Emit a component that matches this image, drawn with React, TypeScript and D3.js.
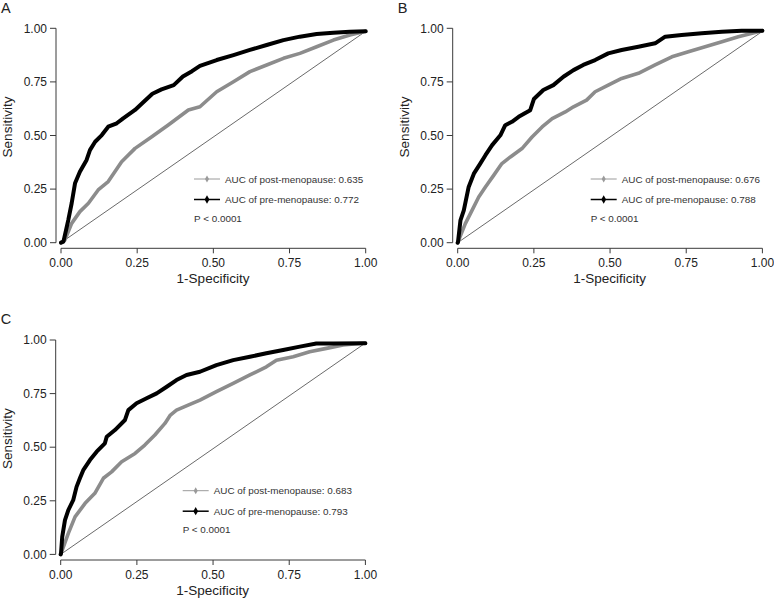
import React from 'react';
import * as d3 from 'd3';

const ticks = [0, 0.25, 0.5, 0.75, 1];
const tickLabels = ['0.00', '0.25', '0.50', '0.75', '1.00'];
const panelLetters = ['A', 'B', 'C'];
const postLabels = ['AUC of post-menopause: 0.635', 'AUC of post-menopause: 0.676', 'AUC of post-menopause: 0.683'];
const preLabels = ['AUC of pre-menopause: 0.772', 'AUC of pre-menopause: 0.788', 'AUC of pre-menopause: 0.793'];
const pText = 'P < 0.0001';
const xTitle = '1-Specificity';
const yTitle = 'Sensitivity';

type P = [number, number];

const aPre: P[] = [
  [0, 0], [0.008, 0.005], [0.024, 0.106], [0.035, 0.184], [0.046, 0.277], [0.062, 0.331], [0.084, 0.386],
  [0.095, 0.432], [0.112, 0.471], [0.134, 0.502], [0.155, 0.541], [0.183, 0.557], [0.204, 0.58], [0.243, 0.619],
  [0.27, 0.655], [0.3, 0.695], [0.33, 0.715], [0.37, 0.735], [0.4, 0.775], [0.43, 0.8], [0.456, 0.825],
  [0.511, 0.852], [0.566, 0.875], [0.62, 0.899], [0.675, 0.922], [0.73, 0.945], [0.784, 0.961], [0.839, 0.973],
  [0.894, 0.979], [0.948, 0.984], [1, 0.986],
];
const aPost: P[] = [
  [0, 0], [0.013, 0.013], [0.035, 0.09], [0.062, 0.145], [0.09, 0.184], [0.122, 0.246], [0.155, 0.285],
  [0.199, 0.378], [0.243, 0.44], [0.298, 0.494], [0.352, 0.549], [0.418, 0.619], [0.456, 0.634], [0.511, 0.704],
  [0.566, 0.751], [0.62, 0.798], [0.675, 0.829], [0.73, 0.86], [0.784, 0.883], [0.839, 0.914], [0.894, 0.945],
  [0.948, 0.969], [1, 0.986],
];
const bPre: P[] = [
  [0, 0], [0.001, 0.003], [0.009, 0.104], [0.02, 0.151], [0.036, 0.26], [0.053, 0.322], [0.074, 0.369],
  [0.091, 0.408], [0.113, 0.455], [0.14, 0.501], [0.156, 0.548], [0.178, 0.564], [0.2, 0.587], [0.238, 0.618],
  [0.25, 0.67], [0.281, 0.712], [0.314, 0.735], [0.347, 0.774], [0.38, 0.805], [0.412, 0.829], [0.451, 0.852],
  [0.494, 0.883], [0.538, 0.899], [0.593, 0.914], [0.648, 0.93], [0.681, 0.961], [0.735, 0.969], [0.801, 0.977],
  [0.867, 0.984], [0.932, 0.989], [1, 0.989],
];
const bPost: P[] = [
  [0, 0], [0.003, 0.011], [0.025, 0.089], [0.047, 0.151], [0.069, 0.213], [0.091, 0.26], [0.118, 0.314],
  [0.145, 0.369], [0.173, 0.4], [0.211, 0.439], [0.244, 0.493], [0.277, 0.54], [0.31, 0.579], [0.353, 0.61],
  [0.38, 0.634], [0.423, 0.665], [0.451, 0.704], [0.494, 0.735], [0.538, 0.766], [0.593, 0.79], [0.648, 0.829],
  [0.703, 0.867], [0.757, 0.891], [0.812, 0.914], [0.867, 0.937], [0.921, 0.961], [0.976, 0.98], [1, 0.989],
];
const cPre: P[] = [
  [0, 0], [0.001, 0.005], [0.005, 0.082], [0.014, 0.16], [0.025, 0.207], [0.041, 0.253], [0.052, 0.315],
  [0.063, 0.355], [0.074, 0.393], [0.096, 0.44], [0.118, 0.479], [0.145, 0.518], [0.151, 0.549], [0.178, 0.58],
  [0.211, 0.627], [0.222, 0.673], [0.249, 0.705], [0.282, 0.728], [0.315, 0.751], [0.348, 0.782], [0.38, 0.813],
  [0.413, 0.837], [0.457, 0.852], [0.511, 0.883], [0.566, 0.906], [0.621, 0.922], [0.675, 0.938], [0.73, 0.953],
  [0.785, 0.969], [0.839, 0.984], [0.894, 0.984], [1, 0.985],
];
const cPost: P[] = [
  [0, 0], [0.003, 0.012], [0.025, 0.098], [0.047, 0.175], [0.08, 0.238], [0.112, 0.285], [0.14, 0.355],
  [0.167, 0.385], [0.2, 0.432], [0.244, 0.471], [0.276, 0.51], [0.309, 0.557], [0.342, 0.611], [0.36, 0.65],
  [0.38, 0.673], [0.424, 0.7], [0.457, 0.72], [0.511, 0.759], [0.566, 0.798], [0.621, 0.837], [0.675, 0.875],
  [0.708, 0.906], [0.763, 0.922], [0.817, 0.945], [0.872, 0.961], [0.927, 0.977], [0.981, 0.984], [1, 0.985],
];
const diagonal: P[] = [[0, 0], [1, 0.986]];

const preSeries = [aPre, bPre, cPre];
const postSeries = [aPost, bPost, cPost];

const layout = [
  { ox: 0, oy: 0, legendDx: 133 },
  { ox: 396.7, oy: 0, legendDx: 133 },
  { ox: -0.3, oy: 311.7, legendDx: 122 },
];

const FONT = 'Liberation Sans, Arial, Helvetica, sans-serif';

function Panel({ i }: { i: number }) {
  const { ox, oy, legendDx } = layout[i];
  const x = d3.scaleLinear().domain([0, 1]).range([61, 365.7]);
  const y = d3.scaleLinear().domain([0, 1]).range([242.7, 28.3]);
  const yAxisX = 56;
  const xAxisY = 248.3;
  const line = d3.line<P>().x((d) => x(d[0])).y((d) => y(d[1])).curve(d3.curveLinear);
  const lx = x(0) + legendDx;
  const axisColor = '#3a3a3a';
  return (
    <g transform={`translate(${ox},${oy})`} fontFamily={FONT}>
      <text x={1} y={12.5} fontSize={14.5} fill="#222">{panelLetters[i]}</text>
      {/* y axis */}
      <line x1={yAxisX} x2={yAxisX} y1={y(1)} y2={y(0)} stroke={axisColor} strokeWidth={1} />
      {ticks.map((t, k) => (
        <g key={'yt' + k}>
          <line x1={yAxisX - 6} x2={yAxisX} y1={y(t)} y2={y(t)} stroke={axisColor} strokeWidth={1} />
          <text x={47} y={y(t) + 4.2} fontSize={12} textAnchor="end" fill="#222">{tickLabels[k]}</text>
        </g>
      ))}
      {/* x axis */}
      <line x1={x(0)} x2={x(1)} y1={xAxisY} y2={xAxisY} stroke={axisColor} strokeWidth={1} />
      {ticks.map((t, k) => (
        <g key={'xt' + k}>
          <line x1={x(t)} x2={x(t)} y1={xAxisY} y2={xAxisY + 5} stroke={axisColor} strokeWidth={1} />
          <text x={x(t)} y={267} fontSize={12} textAnchor="middle" fill="#222">{tickLabels[k]}</text>
        </g>
      ))}
      <text x={213} y={283} fontSize={13.5} textAnchor="middle" fill="#222">{xTitle}</text>
      <text transform={`translate(12,127) rotate(-90)`} fontSize={13.5} textAnchor="middle" fill="#222">{yTitle}</text>
      {/* diagonal */}
      <path d={line(diagonal) || ''} fill="none" stroke="#6a6a6a" strokeWidth={1} />
      {/* curves */}
      <path d={line(postSeries[i]) || ''} fill="none" stroke="#8c8c8c" strokeWidth={3.6} strokeLinejoin="round" strokeLinecap="round" />
      <path d={line(preSeries[i]) || ''} fill="none" stroke="#000" strokeWidth={4} strokeLinejoin="round" strokeLinecap="round" />
      {/* legend */}
      <line x1={lx} x2={lx + 26} y1={179} y2={179} stroke="#9a9a9a" strokeWidth={1} />
      <path d={d3.symbol(d3.symbolDiamond, 14)() || ''} transform={`translate(${lx + 13},179)`} fill="#9a9a9a" />
      <text x={lx + 31} y={182.5} fontSize={9.9} fill="#333">{postLabels[i]}</text>
      <line x1={lx} x2={lx + 26} y1={199.5} y2={199.5} stroke="#000" strokeWidth={1.5} />
      <path d={d3.symbol(d3.symbolDiamond, 20)() || ''} transform={`translate(${lx + 13},199.5)`} fill="#000" />
      <text x={lx + 31} y={203} fontSize={9.9} fill="#333">{preLabels[i]}</text>
      <text x={lx} y={221.8} fontSize={9.9} fill="#333">{pText}</text>
    </g>
  );
}

export default function App() {
  return (
    <svg width={774} height={598} viewBox="0 0 774 598" style={{ position: 'absolute', left: 0, top: 0, background: '#fff' }}>
      <rect width={774} height={598} fill="#fff" />
      {[0, 1, 2].map((i) => <Panel key={i} i={i} />)}
    </svg>
  );
}
